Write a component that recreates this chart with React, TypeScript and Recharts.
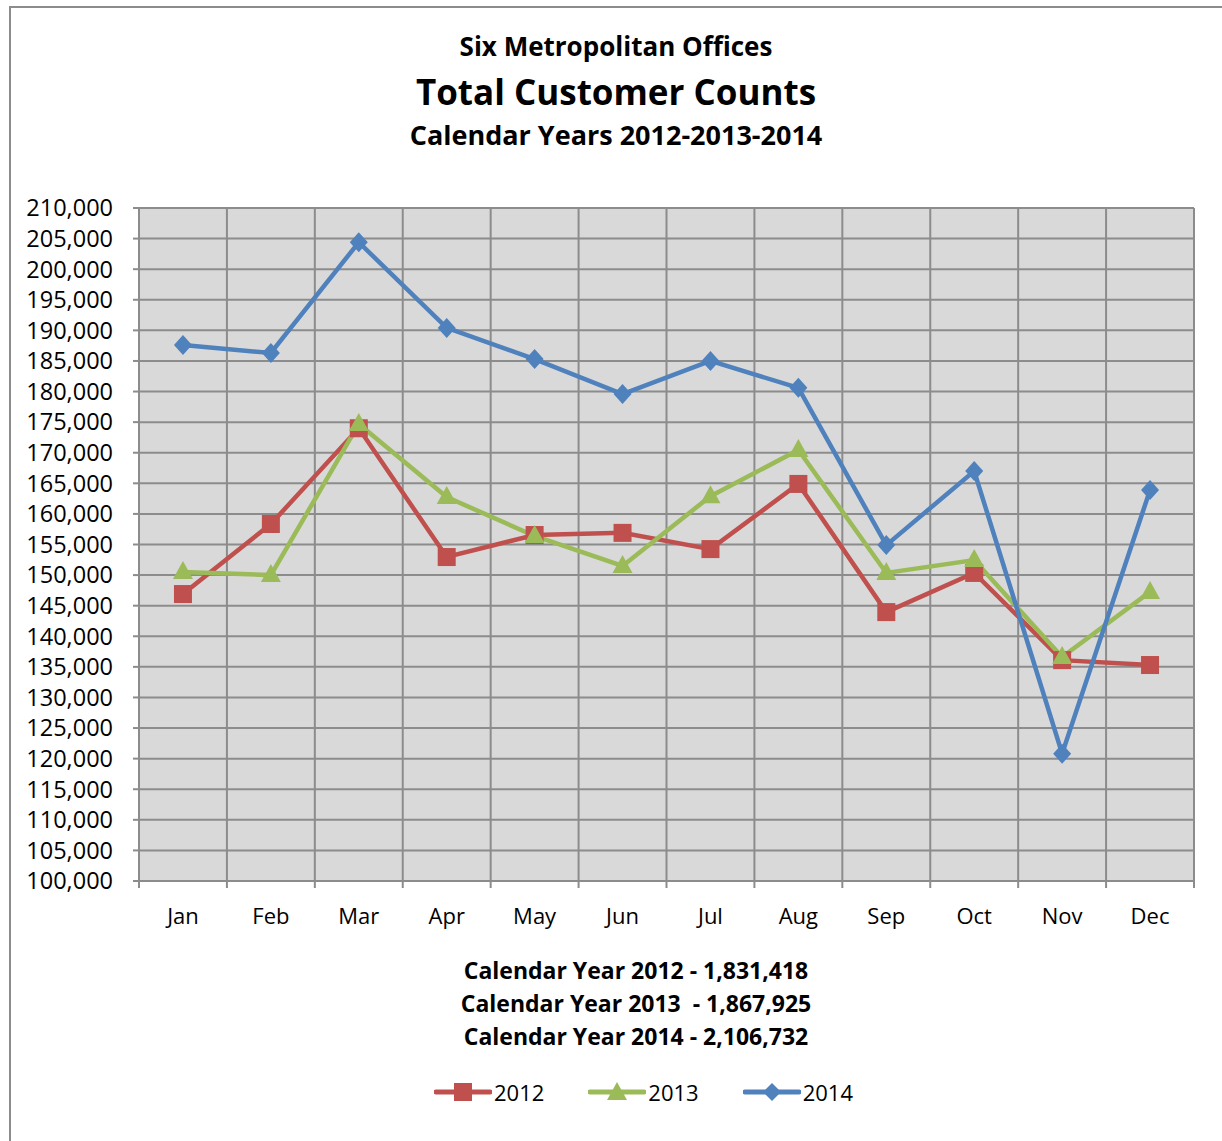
import React from 'react';
import { LineChart, Line, XAxis, YAxis, CartesianGrid } from 'recharts';

const months = ['Jan', 'Feb', 'Mar', 'Apr', 'May', 'Jun', 'Jul', 'Aug', 'Sep', 'Oct', 'Nov', 'Dec'];
const counts2012 = [146900, 158350, 174000, 152950, 156550, 156900, 154250, 164900, 143950, 150350, 136100, 135300];
const counts2013 = [150500, 150000, 174700, 162750, 156400, 151500, 162900, 170450, 150350, 152450, 136600, 147250];
const counts2014 = [187600, 186300, 204400, 190400, 185300, 179600, 185000, 180600, 154900, 167000, 120800, 163900];
const yTicks = [
  100000, 105000, 110000, 115000, 120000, 125000, 130000, 135000, 140000, 145000, 150000, 155000,
  160000, 165000, 170000, 175000, 180000, 185000, 190000, 195000, 200000, 205000, 210000,
];
const titleLines = ['Six Metropolitan Offices', 'Total Customer Counts', 'Calendar Years 2012-2013-2014'];
const totalLines = [
  'Calendar Year 2012 - 1,831,418',
  'Calendar Year 2013  - 1,867,925',
  'Calendar Year 2014 - 2,106,732',
];

const RED = '#c0504d';
const GREEN = '#9bbb59';
const BLUE = '#4f81bd';
const GRID = '#8c8c8c';
const FONT = '"Open Sans", sans-serif';

const W = 1222;
const H = 1141;
const YW = 100;
const margin = { top: 208, right: 28, bottom: 220, left: 39 };
const BAND = (W - margin.left - YW - margin.right) / months.length;

const data = months.map((m, i) => ({
  month: m,
  y2012: counts2012[i],
  y2013: counts2013[i],
  y2014: counts2014[i],
}));

const squareDot = (props: any) => {
  const { cx, cy, index } = props;
  return <rect key={`s-${index}`} x={cx - 9} y={cy - 9} width={18} height={18} fill={RED} />;
};

const triangleDot = (props: any) => {
  const { cx, cy, index } = props;
  return (
    <polygon
      key={`t-${index}`}
      points={`${cx},${cy - 11} ${cx + 10},${cy + 7} ${cx - 10},${cy + 7}`}
      fill={GREEN}
    />
  );
};

const diamondDot = (props: any) => {
  const { cx, cy, index } = props;
  return (
    <polygon
      key={`d-${index}`}
      points={`${cx},${cy - 10} ${cx + 9},${cy} ${cx},${cy + 10} ${cx - 9},${cy}`}
      fill={BLUE}
    />
  );
};

const MonthTick = (props: any) => {
  const { x, y, payload, index } = props;
  const left = x - BAND / 2;
  const right = x + BAND / 2;
  return (
    <g>
      <line x1={left} x2={left} y1={y} y2={y + 7} stroke={GRID} strokeWidth={2} />
      {index === months.length - 1 && (
        <line x1={right} x2={right} y1={y} y2={y + 7} stroke={GRID} strokeWidth={2} />
      )}
      <text x={x} y={y + 35} dy="0.355em" textAnchor="middle" fill="#000" fontSize={22} fontFamily={FONT}>
        {payload.value}
      </text>
    </g>
  );
};

const LegendItem = ({ color, label, shape }: { color: string; label: string; shape: string }) => (
  <div style={{ display: 'flex', alignItems: 'center', marginRight: 44 }}>
    <svg width={58} height={24}>
      <line x1={2} x2={56} y1={12} y2={12} stroke={color} strokeWidth={5} strokeLinecap="round" />
      {shape === 'square' && <rect x={20} y={3} width={18} height={18} fill={color} />}
      {shape === 'triangle' && <polygon points="29,2 39,20 19,20" fill={color} />}
      {shape === 'diamond' && <polygon points="29,3 38,12 29,21 20,12" fill={color} />}
    </svg>
    <span style={{ fontSize: 22, marginLeft: 2 }}>{label}</span>
  </div>
);

export default function App() {
  return (
    <div style={{ position: 'absolute', left: 0, top: 0, width: W, height: H, background: '#fff', fontFamily: FONT, overflow: 'hidden' }}>
      <div style={{ position: 'absolute', left: 9, top: 6, width: W, height: H, borderLeft: '2px solid #8c8c8c', borderTop: '2px solid #8c8c8c' }} />
      <div style={{ position: 'absolute', left: 0, top: 0 }}>
        <LineChart width={W} height={H} data={data} margin={margin}>
          <CartesianGrid
            fill="#d9d9d9"
            stroke={GRID}
            strokeWidth={2}
            verticalCoordinatesGenerator={({ offset }: any) =>
              Array.from({ length: months.length + 1 }, (_, i) => offset.left + (i * offset.width) / months.length)
            }
          />
          <XAxis
            dataKey="month"
            interval={0}
            height={40}
            padding={{ left: BAND / 2, right: BAND / 2 }}
            tickLine={false}
            tickSize={0}
            tickMargin={0}
            axisLine={{ stroke: GRID, strokeWidth: 2 }}
            tick={<MonthTick />}
          />
          <YAxis
            domain={[100000, 210000]}
            ticks={yTicks}
            interval={0}
            width={YW}
            tickSize={6}
            tickMargin={20}
            axisLine={{ stroke: GRID, strokeWidth: 2 }}
            tickLine={{ stroke: GRID, strokeWidth: 2 }}
            tick={{ fill: '#000', fontSize: 23.5, fontFamily: FONT }}
            tickFormatter={(v: number) => v.toLocaleString('en-US')}
          />
          <Line type="linear" dataKey="y2012" stroke={RED} strokeWidth={4.5} dot={squareDot} activeDot={false} isAnimationActive={false} />
          <Line type="linear" dataKey="y2013" stroke={GREEN} strokeWidth={4.5} dot={triangleDot} activeDot={false} isAnimationActive={false} />
          <Line type="linear" dataKey="y2014" stroke={BLUE} strokeWidth={4.5} dot={diamondDot} activeDot={false} isAnimationActive={false} />
        </LineChart>
      </div>

      <div style={{ position: 'absolute', left: 0, width: 1232, top: 29, textAlign: 'center', fontWeight: 700 }}>
        <div style={{ fontSize: 26, lineHeight: '34px' }}>{titleLines[0]}</div>
        <div style={{ fontSize: 35, lineHeight: '46px', marginTop: 6 }}>{titleLines[1]}</div>
        <div style={{ fontSize: 27, lineHeight: '34px', marginTop: 3 }}>{titleLines[2]}</div>
      </div>

      <div style={{ position: 'absolute', left: 0, width: 1272, top: 954, textAlign: 'center', fontWeight: 700, fontSize: 23, lineHeight: '33px', whiteSpace: 'pre' }}>
        {totalLines.map((t) => (
          <div key={t}>{t}</div>
        ))}
      </div>

      <div style={{ position: 'absolute', left: 434, top: 1077, display: 'flex' }}>
        <LegendItem color={RED} label="2012" shape="square" />
        <LegendItem color={GREEN} label="2013" shape="triangle" />
        <LegendItem color={BLUE} label="2014" shape="diamond" />
      </div>
    </div>
  );
}
